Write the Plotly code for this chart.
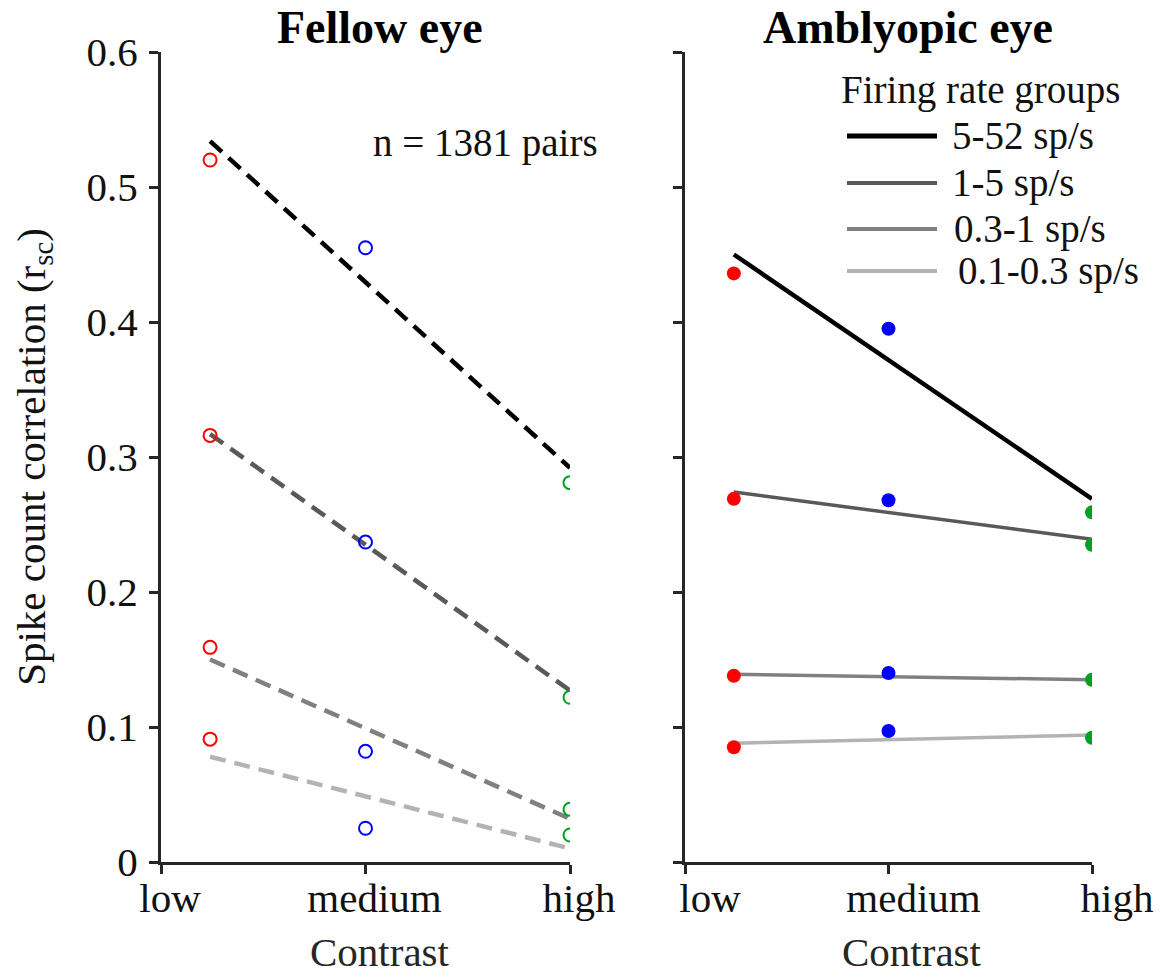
import plotly.graph_objects as go
from plotly.subplots import make_subplots

# ---------------- data ----------------
contrast_ticks = [0, 1, 2]
contrast_labels = ["low", "medium", "high"]
contrast_x = [0.24, 1.0, 2.0]          # x positions of low / medium / high points
fit_x = [0.24, 2.0]                    # x extent of fitted lines

groups = ["5-52 sp/s", "1-5 sp/s", "0.3-1 sp/s", "0.1-0.3 sp/s"]

# Fellow eye (open circles) : values at low, medium, high
fellow_5_52 = [0.520, 0.455, 0.281]
fellow_1_5 = [0.316, 0.237, 0.122]
fellow_03_1 = [0.159, 0.082, 0.039]
fellow_01_03 = [0.091, 0.025, 0.020]

# Amblyopic eye (filled circles)
amb_5_52 = [0.436, 0.395, 0.259]
amb_1_5 = [0.269, 0.268, 0.235]
amb_03_1 = [0.138, 0.140, 0.135]
amb_01_03 = [0.085, 0.097, 0.092]

# Linear fit end points (start at low, end at high)
fellow_fit_start = [0.534, 0.317, 0.150, 0.078]
fellow_fit_end = [0.292, 0.127, 0.032, 0.010]
amb_fit_start = [0.450, 0.274, 0.139, 0.088]
amb_fit_end = [0.269, 0.239, 0.135, 0.094]

# ---------------- style ----------------
FONT = "Liberation Serif, Times New Roman, serif"
AX = "#262626"
TXT = "#111111"
point_colors = ["#ff0000", "#0000ff", "#00a020"]
group_colors = ["#000000", "#595959", "#808080", "#b3b3b3"]
group_widths = [4.5, 3.5, 3.5, 3.5]

fellow = [fellow_5_52, fellow_1_5, fellow_03_1, fellow_01_03]
amb = [amb_5_52, amb_1_5, amb_03_1, amb_01_03]

W, H = 1161, 977
fig = make_subplots(rows=1, cols=2)

for i, g in enumerate(groups):
    # fellow eye dashed fits
    fig.add_trace(go.Scatter(
        x=fit_x, y=[fellow_fit_start[i], fellow_fit_end[i]], mode="lines",
        line=dict(color=group_colors[i], width=4.5, dash="16px,9px"),
        showlegend=False, hoverinfo="skip"), row=1, col=1)
    fig.add_trace(go.Scatter(
        x=contrast_x, y=fellow[i], mode="markers",
        marker=dict(symbol="circle-open", size=13, color=point_colors,
                    line=dict(width=2)),
        showlegend=False, name=g), row=1, col=1)
    # amblyopic eye solid fits
    fig.add_trace(go.Scatter(
        x=fit_x, y=[amb_fit_start[i], amb_fit_end[i]], mode="lines",
        line=dict(color=group_colors[i], width=group_widths[i]),
        showlegend=False, hoverinfo="skip"), row=1, col=2)
    fig.add_trace(go.Scatter(
        x=contrast_x, y=amb[i], mode="markers",
        marker=dict(symbol="circle", size=14, color=point_colors),
        showlegend=False, name=g), row=1, col=2)

# ---------------- axes ----------------
x_dom1 = [161 / W, 570 / W]
x_dom2 = [685 / W, 1092 / W]
y_dom = [1 - 862 / H, 1 - 52 / H]

common_x = dict(range=[0, 2], tickvals=contrast_ticks, ticktext=contrast_labels,
                showline=True, linecolor=AX, linewidth=3, ticks="outside",
                ticklen=9, tickwidth=3, tickcolor=AX, showgrid=False, zeroline=False,
                automargin=False, ticklabelstandoff=-11,
                tickfont=dict(family=FONT, size=41, color=TXT))
fig.update_xaxes(domain=x_dom1, ticklabelshift=9, **common_x, row=1, col=1)
fig.update_xaxes(domain=x_dom2, ticklabelshift=25, **common_x, row=1, col=2)

common_y = dict(range=[0, 0.6], tickvals=[0, 0.1, 0.2, 0.3, 0.4, 0.5, 0.6],
                showline=True, linecolor=AX, linewidth=3, ticks="outside",
                ticklen=9, tickwidth=3, tickcolor=AX, showgrid=False, zeroline=False,
                automargin=False, domain=y_dom)
fig.update_yaxes(**common_y, ticktext=["0", "0.1", "0.2", "0.3", "0.4", "0.5", "0.6"],
                 tickfont=dict(family=FONT, size=41, color=TXT),
                 ticklabelstandoff=3,
                 title=dict(text="Spike count correlation (r<sub>sc</sub>)",
                            font=dict(family=FONT, size=41, color=TXT),
                            standoff=29),
                 row=1, col=1)
fig.update_yaxes(**common_y, showticklabels=False, row=1, col=2)

# ---------------- annotations ----------------
ann = []
ann.append(dict(text="<b>Fellow eye</b>", x=380 / W, y=1 - 28 / H, xref="paper", yref="paper",
                showarrow=False, font=dict(family=FONT, size=46, color="#000000"),
                xanchor="center", yanchor="middle"))
ann.append(dict(text="<b>Amblyopic eye</b>", x=908 / W, y=1 - 28 / H, xref="paper", yref="paper",
                showarrow=False, font=dict(family=FONT, size=46, color="#000000"),
                xanchor="center", yanchor="middle"))
for cx in (380, 912):
    ann.append(dict(text="Contrast", x=cx / W, y=1 - 952 / H, xref="paper", yref="paper",
                    showarrow=False, font=dict(family=FONT, size=41, color=AX),
                    xanchor="center", yanchor="middle"))
ann.append(dict(text="n = 1381 pairs", x=485 / W, y=1 - 143 / H, xref="paper", yref="paper",
                showarrow=False, font=dict(family=FONT, size=39, color=TXT),
                xanchor="center", yanchor="middle"))

# legend (manual)
ann.append(dict(text="Firing rate groups", x=980 / W, y=1 - 90 / H, xref="paper", yref="paper",
                showarrow=False, font=dict(family=FONT, size=39, color=TXT),
                xanchor="center", yanchor="middle"))
leg_y = [136, 183, 229, 271]
leg_tx = [950, 950, 952, 956]
shapes = []
for i, g in enumerate(groups):
    shapes.append(dict(type="line", xref="paper", yref="paper",
                       x0=847 / W, x1=937 / W, y0=1 - leg_y[i] / H, y1=1 - leg_y[i] / H,
                       line=dict(color=group_colors[i], width=group_widths[i] + 0.5)))
    ann.append(dict(text=g, x=leg_tx[i] / W, y=1 - leg_y[i] / H, xref="paper", yref="paper",
                    showarrow=False, font=dict(family=FONT, size=39, color=TXT),
                    xanchor="left", yanchor="middle"))

fig.update_layout(width=W, height=H, margin=dict(l=0, r=0, t=0, b=0),
                  plot_bgcolor="white", paper_bgcolor="white",
                  annotations=ann, shapes=shapes, showlegend=False)

fig.write_html("out.html")
